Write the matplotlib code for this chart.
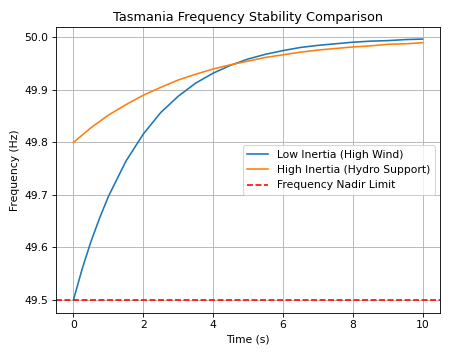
import matplotlib
matplotlib.use("Agg")
import matplotlib.pyplot as plt

time_s = [0, 0.25, 0.5, 0.75, 1, 1.5, 2, 2.5, 3, 3.5, 4, 4.5, 5, 5.5, 6, 6.5, 7, 7.5, 8, 8.5, 9, 9.5, 10]
low_inertia = [49.500, 49.559, 49.611, 49.656, 49.697, 49.764, 49.816, 49.857, 49.888, 49.913,
               49.932, 49.947, 49.959, 49.968, 49.975, 49.981, 49.985, 49.988, 49.991, 49.993,
               49.994, 49.996, 49.997]
high_inertia = [49.800, 49.814, 49.828, 49.840, 49.852, 49.872, 49.890, 49.905, 49.919, 49.930,
                49.940, 49.948, 49.955, 49.962, 49.967, 49.972, 49.976, 49.979, 49.982, 49.984,
                49.987, 49.988, 49.990]
nadir_limit = 49.5

DPI = 77
fig = plt.figure(figsize=(452 / DPI, 353 / DPI), dpi=DPI)
ax = fig.add_axes([56 / 452, 1 - 313 / 353, 384 / 452, 286 / 353])
ax.plot(time_s, low_inertia, color='#1f77b4', label='Low Inertia (High Wind)')
ax.plot(time_s, high_inertia, color='#ff7f0e', label='High Inertia (Hydro Support)')
ax.axhline(nadir_limit, color='red', linestyle='--', label='Frequency Nadir Limit')
ax.set_xlim(-0.5, 10.5)
ax.set_ylim(49.475, 50.02)
ax.set_xticks([0, 2, 4, 6, 8, 10])
ax.set_yticks([49.5, 49.6, 49.7, 49.8, 49.9, 50.0])
ax.set_title('Tasmania Frequency Stability Comparison')
ax.set_xlabel('Time (s)')
ax.set_ylabel('Frequency (Hz)')
ax.grid(True)
ax.legend(loc='center right')
fig.savefig('out.png', dpi=DPI)
